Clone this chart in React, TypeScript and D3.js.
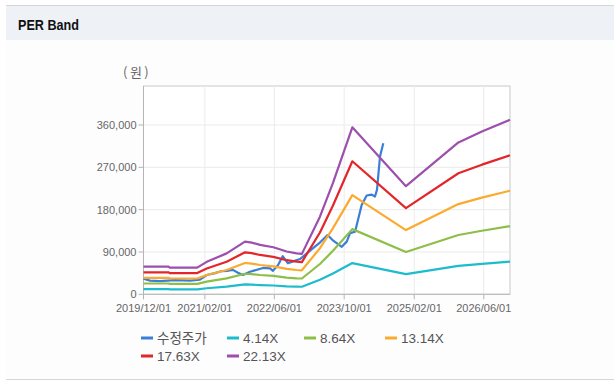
import React from "react";
import * as d3 from "d3";

// ---- data ----
const bandDates = [
  "2019-12-01", "2020-05-25", "2020-06-01", "2020-12-10", "2021-02-14",
  "2021-07-03", "2021-11-08", "2021-12-25", "2022-02-21", "2022-05-25",
  "2022-08-26", "2022-11-04", "2022-12-10", "2023-04-15", "2023-07-15",
  "2023-11-27", "2024-12-05", "2025-12-06", "2026-05-19", "2026-12-01",
];
const per414 = [10980, 10980, 10590, 10590, 12910, 16280, 20960, 20580, 19650, 18710, 17030, 16280, 16090, 30870, 44340, 66420, 43030, 60430, 64740, 69410];
const per864 = [22920, 22920, 22100, 22100, 26940, 33960, 43720, 42940, 40990, 39040, 35530, 33960, 33570, 64420, 92530, 138590, 89790, 126100, 135080, 144840];
const per1314 = [34860, 34860, 33610, 33610, 40970, 51660, 66510, 65320, 62350, 59380, 54040, 51660, 51070, 97980, 140730, 210800, 136570, 191800, 205450, 220300];
const per1763 = [46770, 46770, 45090, 45090, 54970, 69310, 89230, 87640, 83650, 79670, 72500, 69310, 68520, 131460, 188820, 282830, 183240, 257330, 275660, 295580];
const per2213 = [58700, 58700, 56600, 56600, 69000, 87000, 112000, 110000, 105000, 100000, 91000, 87000, 86000, 165000, 237000, 355000, 230000, 323000, 346000, 371000];

const priceDates = [
  "2019-12-01", "2020-01-15", "2020-03-25", "2020-07-08", "2020-10-20", "2020-12-29",
  "2021-02-14", "2021-04-13", "2021-05-25", "2021-07-13", "2021-08-16", "2021-09-20",
  "2021-10-25", "2021-12-13", "2022-03-14", "2022-05-02", "2022-05-22", "2022-06-26",
  "2022-07-29", "2022-09-04", "2022-10-09", "2022-11-27", "2023-02-26", "2023-04-15",
  "2023-06-07", "2023-07-17", "2023-09-14", "2023-10-19", "2023-11-11", "2023-12-16",
  "2024-01-31", "2024-03-06", "2024-04-10", "2024-05-03", "2024-05-17", "2024-06-07",
  "2024-06-30",
];
const priceValues = [
  33000, 29000, 28000, 30000, 29000, 31000,
  41000, 45000, 49000, 50000, 52000, 46000,
  41000, 48000, 56000, 55000, 50000, 62000,
  81000, 66000, 70000, 75000, 98000, 110000,
  126000, 114000, 101000, 112000, 130000, 133000,
  190000, 210000, 212000, 208000, 222000, 293000,
  321000,
];

const seriesNames = ["수정주가", "4.14X", "8.64X", "13.14X", "17.63X", "22.13X"];
const seriesColors = ["#3b7ed8", "#1cbccd", "#8dbf48", "#fbaa2e", "#e2262a", "#9c4fad"];

const xTicks = ["2019-12-01", "2021-02-01", "2022-06-01", "2023-10-01", "2025-02-01", "2026-06-01"];
const yTicks = [0, 90000, 180000, 270000, 360000];

const parse = d3.timeParse("%Y-%m-%d");

export default function App() {
  const W = 614, H = 389;
  const left = 143.5, right = 510, top = 86, bottom = 294.3;
  const x = d3.scaleTime().domain([parse("2019-12-01")!, parse("2026-12-01")!]).range([left, right]);
  const y = d3.scaleLinear().domain([0, 360000]).range([bottom, 125]);
  const fmtX = d3.timeFormat("%Y/%m/%d");
  const fmtY = d3.format(",");

  const line = d3.line<[Date, number]>().x(d => x(d[0])).y(d => y(d[1]));
  const bands = [per414, per864, per1314, per1763, per2213];
  const series: [Date, number][][] = [
    priceDates.map((d, i) => [parse(d)!, priceValues[i]]),
    ...bands.map(vals => bandDates.map((d, i) => [parse(d)!, vals[i]] as [Date, number])),
  ];

  const legendPos = [
    [141, 338], [227, 338], [304, 338], [385, 338],
    [141, 356], [227, 356],
  ];

  const tickFont = "'Liberation Sans', Arial, sans-serif";

  return (
    <svg width={W} height={H} style={{ position: "absolute", left: 0, top: 0 }}>
      <rect x={0} y={0} width={W} height={H} fill="#ffffff" />
      {/* header */}
      <rect x={6} y={5} width={W - 6} height={35} fill="#eef1f6" />
      <line x1={6} x2={W} y1={5.5} y2={5.5} stroke="#d3d7dd" />
      <rect x={6} y={40} width={W - 6} height={339} fill="#fdfdfe" />
      <line x1={6} x2={W} y1={379.5} y2={379.5} stroke="#d6d6d6" />
      <text x={18} y={29.5} fontFamily={tickFont} fontWeight="bold" fontSize={15} fill="#111" textLength={61} lengthAdjust="spacingAndGlyphs">PER Band</text>

      {/* plot area */}
      <rect x={left} y={top} width={right - left} height={bottom - top} fill="#ffffff" stroke="#c9c9c9" />
      {yTicks.map(t => (
        <line key={"gy" + t} x1={left} x2={right} y1={y(t)} y2={y(t)} stroke="#ebebeb" />
      ))}
      {xTicks.map(t => (
        <line key={"gx" + t} x1={x(parse(t)!)} x2={x(parse(t)!)} y1={top} y2={bottom} stroke="#ebebeb" />
      ))}
      <line x1={left} x2={left} y1={top} y2={bottom} stroke="#b5b5b5" />
      <line x1={left} x2={right} y1={bottom} y2={bottom} stroke="#b5b5b5" />

      {yTicks.map(t => (
        <g key={"ty" + t}>
          <line x1={left - 5} x2={left} y1={y(t)} y2={y(t)} stroke="#b5b5b5" />
          <text x={left - 7} y={y(t) + 4} textAnchor="end" fontFamily={tickFont} fontSize={11} fill="#666">{fmtY(t)}</text>
        </g>
      ))}
      {xTicks.map(t => (
        <g key={"tx" + t}>
          <line x1={x(parse(t)!)} x2={x(parse(t)!)} y1={bottom} y2={bottom + 5} stroke="#b5b5b5" />
          <text x={x(parse(t)!)} y={bottom + 18} textAnchor="middle" fontFamily={tickFont} fontSize={11} fill="#666">{fmtX(parse(t)!)}</text>
        </g>
      ))}
      <text x={123} y={77} fontFamily="'Noto Sans CJK KR', sans-serif" fontSize={13} fill="#666" letterSpacing={2.5}>(원)</text>

      {/* lines */}
      {series.map((s, i) => (
        <path key={"s" + i} d={line(s) || ""} fill="none" stroke={seriesColors[i]} strokeWidth={2.2} strokeLinejoin="round" />
      ))}

      {/* legend */}
      {seriesNames.map((n, i) => (
        <g key={"lg" + i} transform={`translate(${legendPos[i][0]},${legendPos[i][1]})`}>
          <line x1={0} x2={12} y1={0} y2={0} stroke={seriesColors[i]} strokeWidth={3} />
          <text x={16} y={5} fontFamily="'Liberation Sans', 'Noto Sans CJK KR', sans-serif" fontSize={13.5} fill="#555">{n}</text>
        </g>
      ))}
    </svg>
  );
}
